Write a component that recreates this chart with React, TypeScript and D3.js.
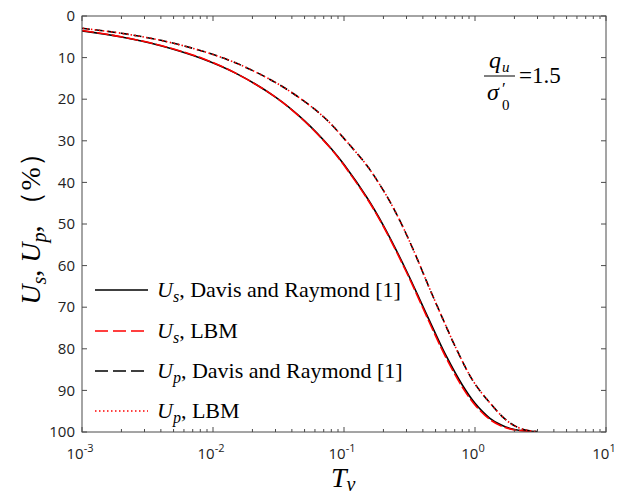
import React from "react";
import * as d3 from "d3";

// ---- data ----
const tvUs = [0.001, 0.002, 0.004, 0.008, 0.015, 0.03, 0.05, 0.08, 0.1, 0.15, 0.2, 0.3, 0.4, 0.5, 0.6, 0.8, 1.0, 1.3, 1.6, 2.0, 3.0];
const usDavis = [3.57, 5.05, 7.14, 10.1, 13.8, 19.5, 25.2, 31.9, 35.7, 43.7, 50.4, 61.3, 69.8, 76.4, 81.6, 88.7, 93.1, 96.7, 98.4, 99.4, 99.9];
const usLBM = [3.5, 5.0, 7.1, 10.0, 13.8, 19.5, 25.3, 32.0, 35.9, 43.9, 50.6, 61.6, 70.2, 76.9, 82.1, 89.2, 93.5, 97.0, 98.6, 99.5, 99.95];

const tvUp = [0.001, 0.002, 0.004, 0.008, 0.015, 0.032, 0.058, 0.078, 0.105, 0.15, 0.188, 0.224, 0.267, 0.336, 0.45, 0.557, 0.72, 0.97, 1.3, 1.74, 2.2, 3.0];
const upDavis = [2.95, 4.15, 5.85, 8.3, 11.3, 16.5, 22.1, 25.7, 30.2, 36.0, 40.6, 44.6, 49.2, 56.0, 65.5, 72.2, 80.0, 87.8, 93.0, 97.2, 99.1, 100];
const upLBM = [2.95, 4.15, 5.85, 8.3, 11.3, 16.5, 22.1, 25.7, 30.2, 36.0, 40.6, 44.6, 49.2, 56.0, 65.5, 72.2, 80.0, 87.8, 93.0, 97.2, 99.1, 100];

const yTicks = [0, 10, 20, 30, 40, 50, 60, 70, 80, 90, 100];
const xDecades = [-3, -2, -1, 0, 1];

const W = 625, H = 495;
const L = 82, R = 606, T = 16, B = 432;

export default function App() {
  const x = d3.scaleLog().domain([1e-3, 10]).range([L, R]);
  const y = d3.scaleLinear().domain([0, 100]).range([T, B]);
  const line = d3.line<[number, number]>().x(d => x(d[0])).y(d => y(d[1])).curve(d3.curveCatmullRom.alpha(0.5));

  const minor: number[] = [];
  for (let e = -3; e < 1; e++) for (let k = 2; k <= 9; k++) minor.push(k * Math.pow(10, e));

  const axisColor = "#4a4a4a";
  const tickStyle = { fontFamily: "'Open Sans', 'Noto Sans', sans-serif" };
  const serif = { fontFamily: "'Liberation Serif', 'Times New Roman', Times, 'DejaVu Serif', serif" };

  const legend = [
    { sub: "s", text: ", Davis and Raymond [1]", color: "#000", dash: "none" },
    { sub: "s", text: ", LBM", color: "#ff0000", dash: "13,5" },
    { sub: "p", text: ", Davis and Raymond [1]", color: "#000", dash: "13,5" },
    { sub: "p", text: ", LBM", color: "#ff0000", dash: "1.5,2.5" },
  ];
  const legY = [290, 331, 371, 411];

  const pts = (xs: number[], ys: number[]) => xs.map((t, i) => [t, ys[i]] as [number, number]);

  return (
    <svg width={W} height={H} style={{ position: "absolute", left: 0, top: 0, background: "#fff" }}>
      <defs>
        <clipPath id="plotclip">
          <rect x={L} y={T} width={R - L} height={B - T} />
        </clipPath>
      </defs>
      <rect x={0} y={0} width={W} height={H} fill="#fff" />

      {/* curves */}
      <g clipPath="url(#plotclip)" fill="none" strokeWidth={1.6}>
        <path d={line(pts(tvUs, usDavis)) || ""} stroke="#000" />
        <path d={line(pts(tvUs, usLBM)) || ""} stroke="#ff0000" strokeDasharray="12,3" />
        <path d={line(pts(tvUp, upDavis)) || ""} stroke="#000" strokeDasharray="8,5" />
        <path d={line(pts(tvUp, upLBM)) || ""} stroke="#ff0000" strokeDasharray="1.5,2.5" strokeDashoffset={-9} />
      </g>

      {/* frame */}
      <rect x={L} y={T} width={R - L} height={B - T} fill="none" stroke={axisColor} strokeWidth={1} />

      {/* y ticks */}
      {yTicks.map(v => (
        <g key={"y" + v}>
          <line x1={L} x2={L + 5} y1={y(v)} y2={y(v)} stroke={axisColor} />
          <line x1={R} x2={R - 5} y1={y(v)} y2={y(v)} stroke={axisColor} />
          <text x={L - 7} y={y(v)} dy="0.35em" textAnchor="end" style={tickStyle} fontSize={15} fill="#222">{v}</text>
        </g>
      ))}

      {/* x ticks */}
      {xDecades.map(e => (
        <g key={"x" + e}>
          <line x1={x(Math.pow(10, e))} x2={x(Math.pow(10, e))} y1={B} y2={B - 5} stroke={axisColor} />
          <line x1={x(Math.pow(10, e))} x2={x(Math.pow(10, e))} y1={T} y2={T + 5} stroke={axisColor} />
          <text x={x(Math.pow(10, e)) - 2} y={459} textAnchor="middle" style={tickStyle} fontSize={15} fill="#222">
            10<tspan dy={-7} fontSize={11}>{e}</tspan>
          </text>
        </g>
      ))}
      {minor.map((m, i) => (
        <g key={"m" + i}>
          <line x1={x(m)} x2={x(m)} y1={B} y2={B - 3} stroke={axisColor} />
          <line x1={x(m)} x2={x(m)} y1={T} y2={T + 3} stroke={axisColor} />
        </g>
      ))}

      {/* axis titles */}
      <text x={331} y={487} style={serif} fontSize={28} fontStyle="italic" fill="#000">
        T<tspan dy={4} fontSize={20}>v</tspan>
      </text>
      <text transform="translate(40,222) rotate(-90)" textAnchor="middle" style={serif} fontSize={28} fill="#000">
        <tspan fontStyle="italic">U</tspan>
        <tspan fontStyle="italic" fontSize={20} dy={6}>s</tspan>
        <tspan dy={-6}>, </tspan>
        <tspan fontStyle="italic">U</tspan>
        <tspan fontStyle="italic" fontSize={20} dy={6}>p</tspan>
        <tspan dy={-6}>, （%）</tspan>
      </text>

      {/* annotation */}
      <g style={serif} fill="#000">
        <text x={489} y={68} fontSize={24} fontStyle="italic">q</text>
        <text x={502} y={72} fontSize={15} fontStyle="italic">u</text>
        <line x1={484} x2={515} y1={76} y2={76} stroke="#000" strokeWidth={1} />
        <text x={487} y={100} fontSize={24} fontStyle="italic">σ</text>
        <text x={502} y={94} fontSize={17}>′</text>
        <text x={502} y={110} fontSize={15}>0</text>
        <text x={519} y={83} fontSize={23}>=1.5</text>
      </g>

      {/* legend */}
      {legend.map((d, i) => (
        <g key={"l" + i}>
          <line x1={95} x2={148} y1={legY[i]} y2={legY[i]} stroke={d.color} strokeWidth={1.6} strokeDasharray={d.dash} />
          <text x={157} y={legY[i] + 7} style={serif} fontSize={22} fill="#000">
            <tspan fontStyle="italic">U</tspan>
            <tspan fontStyle="italic" fontSize={16} dy={5}>{d.sub}</tspan>
            <tspan dy={-5}>{d.text}</tspan>
          </text>
        </g>
      ))}
    </svg>
  );
}
